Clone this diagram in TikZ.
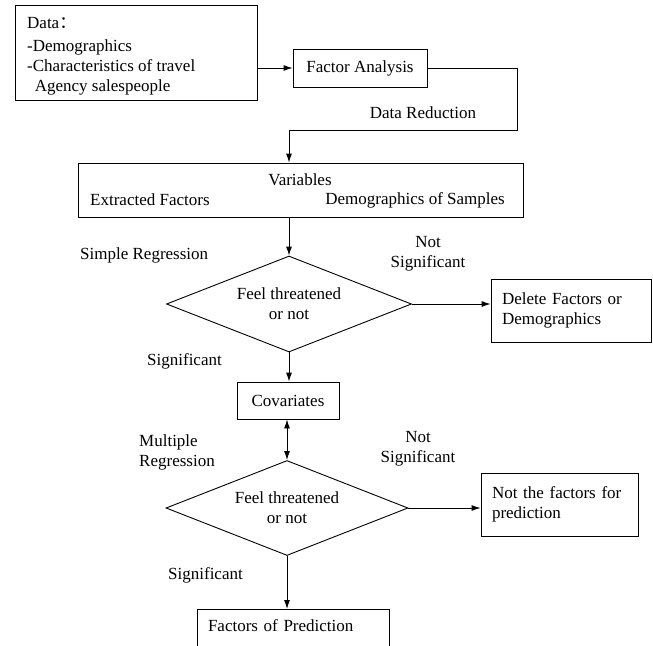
\documentclass[tikz,border=0pt]{standalone}
\usepackage{fontspec}
\setmainfont{Liberation Serif}
\newfontfamily\cjk{Noto Sans CJK SC}
\usetikzlibrary{shapes.geometric,arrows.meta}

\begin{document}
\begin{tikzpicture}[x=1pt,y=-1pt,
            every node/.style={font=\fontsize{17}{20}\selectfont, inner sep=0pt},
            box/.style={draw, line width=0.9pt, align=left},
            decision/.style={draw, line width=0.9pt, diamond, aspect=2.5,
                align=center, minimum width=245, minimum height=96},
            lbl/.style={align=left},
            flow/.style={line width=0.9pt, -{Latex[length=9pt,width=6pt]}},
            link/.style={line width=0.9pt}]
            \useasboundingbox (0,0) rectangle (653,645);
            \clip (0,0) rectangle (653,645);

            \node (data) [box, minimum width=242, minimum height=95] at (136,52.5) {};
            \node (dataT) [lbl, anchor=north west] at (27,17)
                {Data{\cjk ：}\\[3pt]-Demographics\\-Characteristics of travel\\
                 \hspace*{0.45em}Agency salespeople};
            \node (fa) [box, minimum width=134, minimum height=38] at (360,68)
                {Factor Analysis};
            \node (red) [lbl] at (423,113) {Data Reduction};

            \node (vars) [box, minimum width=445, minimum height=54] at (300.5,190) {};
            \node (varsT) at (300,180) {Variables};
            \node (extr) [anchor=west] at (90,200) {Extracted Factors};
            \node (demo) [anchor=east] at (505,200) {Demographics of Samples};

            \node (simple) [anchor=west] at (80,255) {Simple Regression};
            \node (dia1) [decision] at (289,304) {Feel threatened\\or not};
            \node (ns1) [align=center] at (428,254) {Not\\Significant};
            \node (del) [box, minimum width=160, minimum height=63, text width=138]
                at (571,310.5) {Delete Factors or\\Demographics};
            \node (sig1) [anchor=west] at (147,361) {Significant};

            \node (cov) [box, minimum width=102, minimum height=37] at (288,400.5)
                {Covariates};

            \node (mult) [lbl, anchor=west] at (139,452) {Multiple\\Regression};
            \node (dia2) [decision, minimum width=242, minimum height=95] at (287,508)
                {Feel threatened\\or not};
            \node (ns2) [align=center] at (418,449) {Not\\Significant};
            \node (notf) [box, minimum width=157, minimum height=63, text width=135]
                at (559.5,504.5) {Not the factors for\\prediction};
            \node (sig2) [anchor=west] at (168,575) {Significant};

            \node (pred) [box, anchor=north, minimum width=192, text width=170,
                inner ysep=10pt, text depth=16pt] at (293,609) {Factors of Prediction};

            \coordinate (turn) at (517,130);
            \coordinate (drop) at (289,130);

            \draw[flow] (data.east |- fa.west) -- (fa.west);
            \draw[link] (fa.east) -| (turn) -- (drop);
            \draw[flow] (drop) -- (drop |- vars.north);
            \draw[flow] (dia1.north |- vars.south) -- (dia1.north);
            \draw[flow] (dia1.east) -- (del.west |- dia1.east);
            \draw[flow] (dia1.south) -- (dia1.south |- cov.north);
            \draw[line width=0.9pt, {Latex[length=9pt,width=6pt]}-{Latex[length=9pt,width=6pt]}]
                (dia2.north |- cov.south) -- (dia2.north);
            \draw[flow] (dia2.east) -- (notf.west |- dia2.east);
            \draw[flow] (dia2.south) -- (dia2.south |- pred.north);
\end{tikzpicture}
\end{document}
